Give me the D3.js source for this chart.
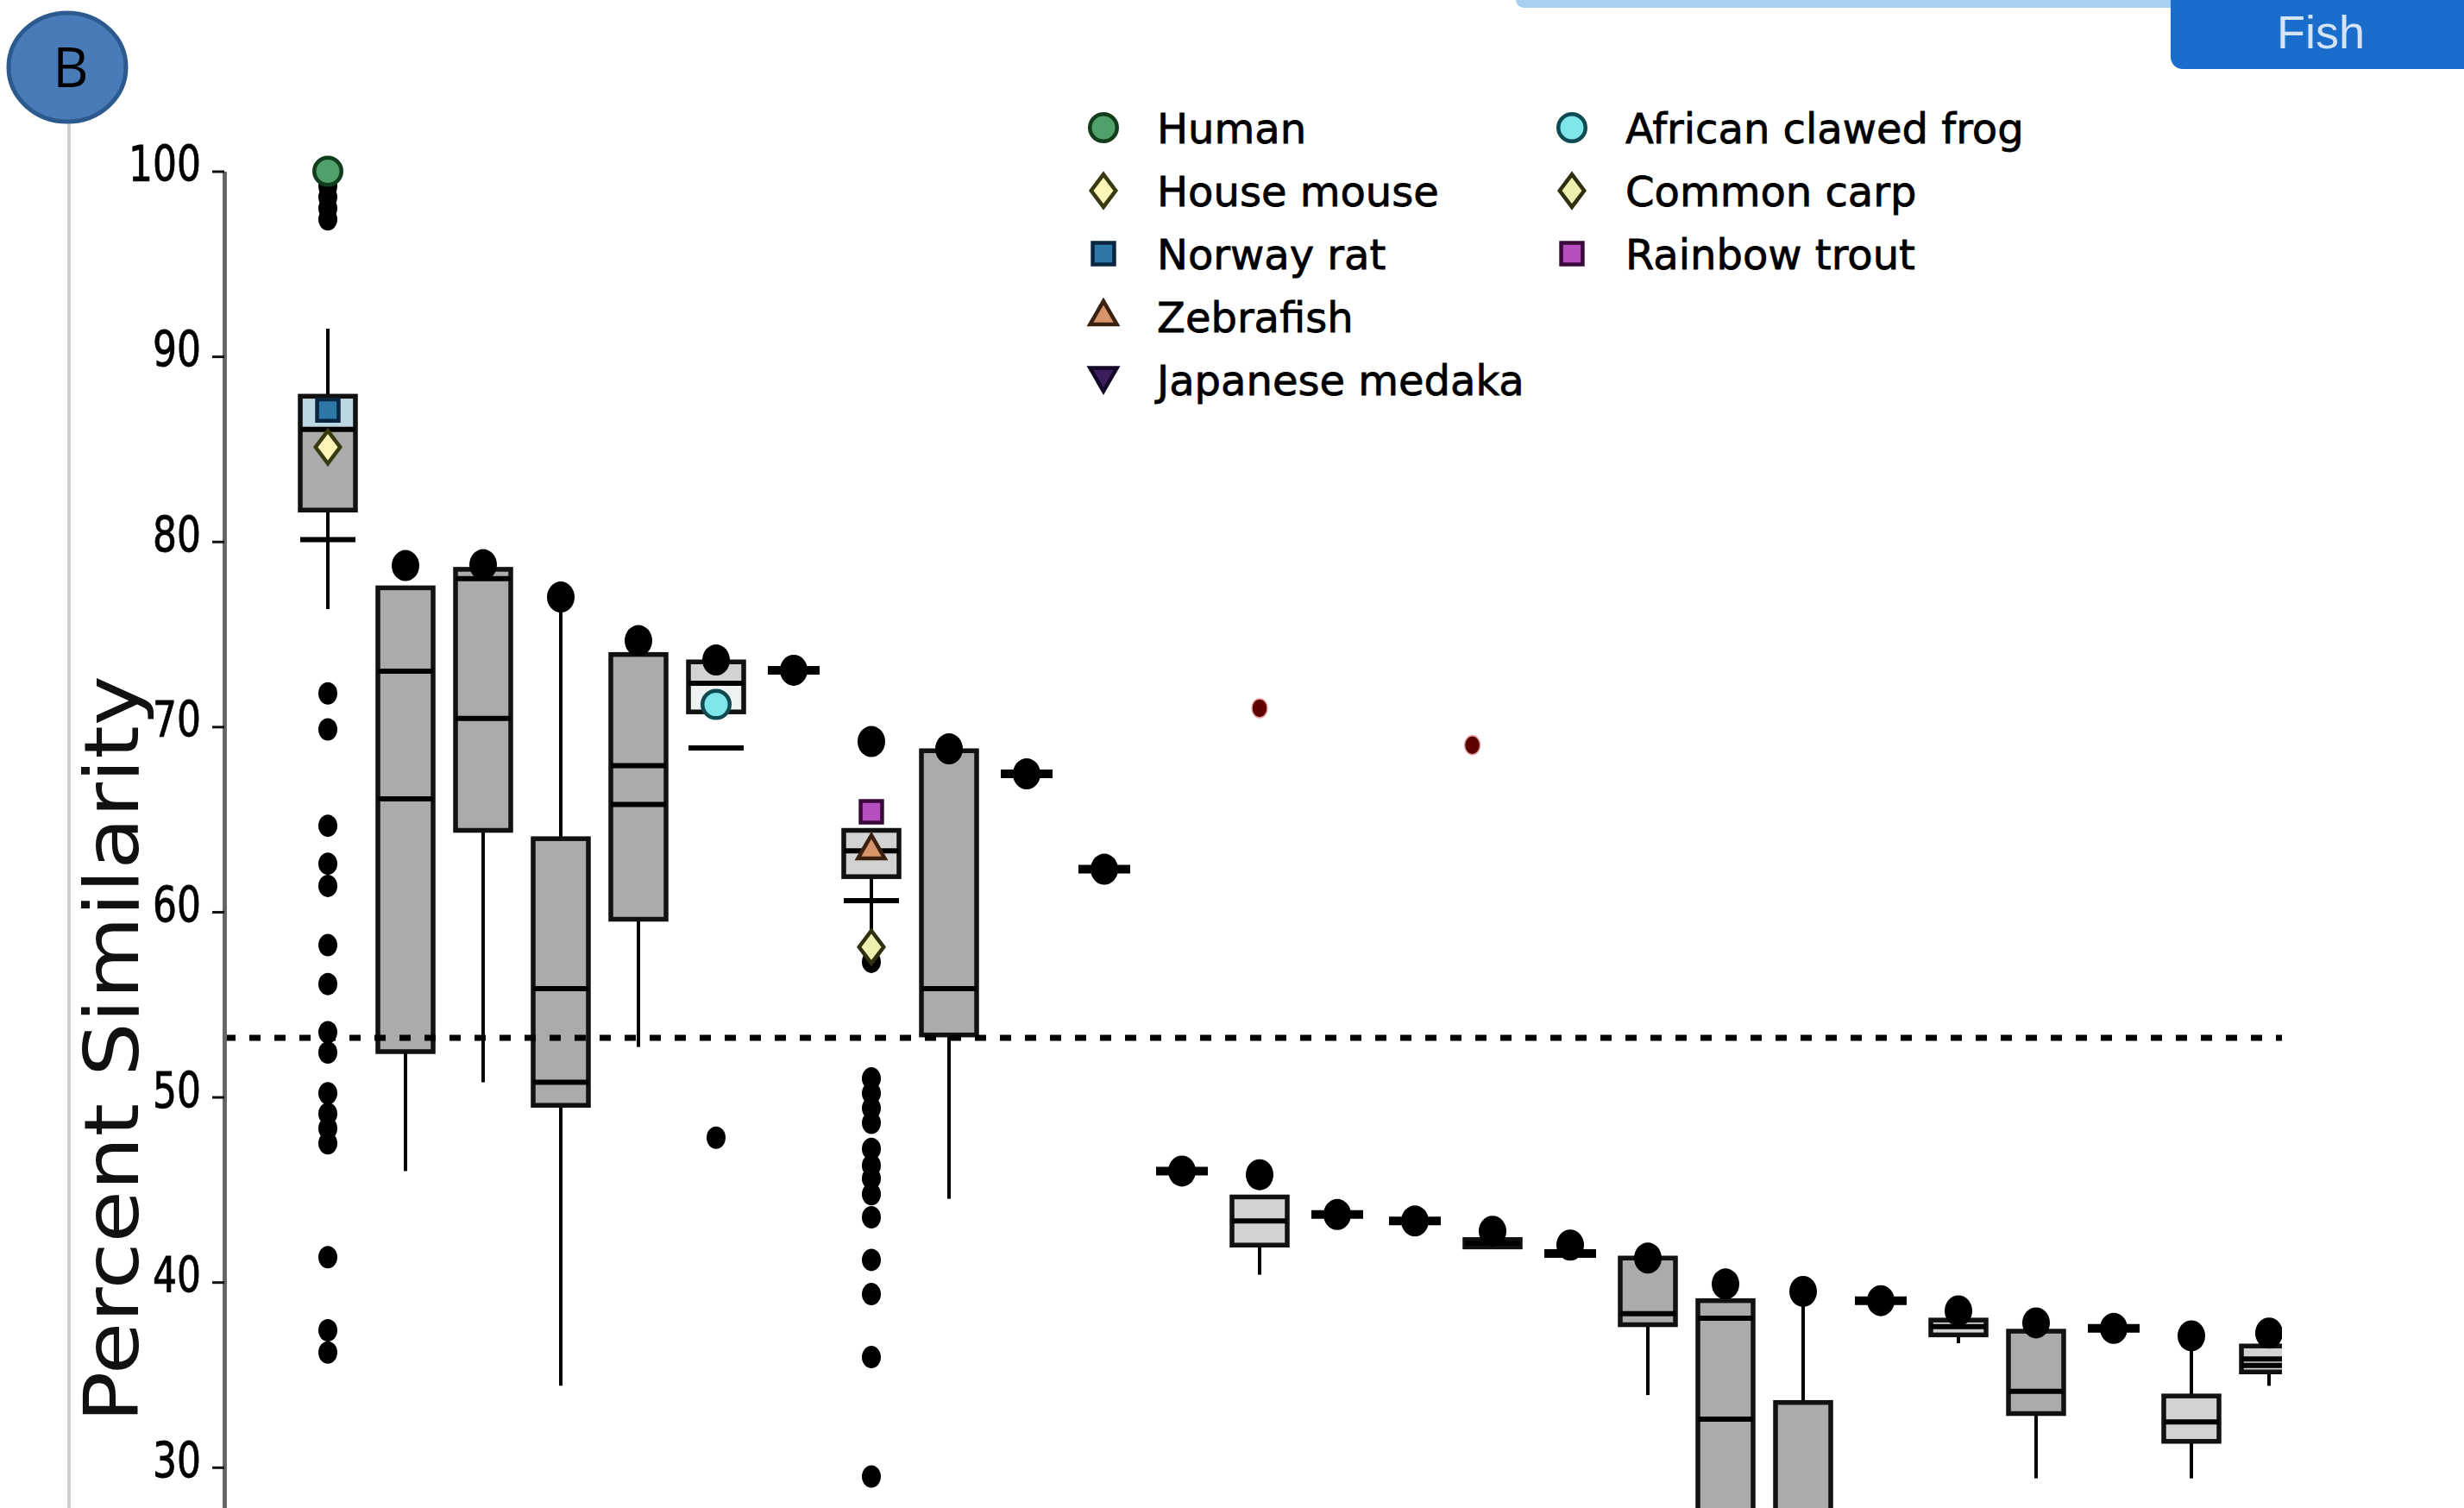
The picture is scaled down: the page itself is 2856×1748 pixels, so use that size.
<!DOCTYPE html>
<html>
<head>
<meta charset="utf-8">
<script src="https://cdn.jsdelivr.net/npm/d3@7/dist/d3.min.js"></script>
<style>
  html, body { margin: 0; padding: 0; background: #fff; }
  svg { display: block; }
</style>
</head>
<body>
<svg id="chart" width="2856" height="1748"></svg>
<script>
// ---- data ----
// 26 comparison groups; their x labels are cut off in the source panel
const categories = d3.range(1, 27);
const yTicks = [30, 40, 50, 60, 70, 80, 90, 100];
const threshold = 53.2;

// box statistics per group (null where no box part is drawn)
const boxQ1     = [81.7, 52.45, 64.4, 49.55, 59.6, 70.8, 73.05, 61.9, 53.35, 67.45, 62.3, 46.0, 42.0, 43.65, 43.3, 41.9, 41.55, 37.7, 24.0, 24.0, 39.0, 37.15, 32.9, 37.5, 31.4, 35.15];
const boxQ3     = [87.85, 77.5, 78.5, 63.95, 73.9, 73.5, 73.05, 64.4, 68.7, 67.45, 62.3, 46.0, 44.6, 43.65, 43.3, 42.3, 41.55, 41.3, 39.0, 33.5, 39.0, 37.95, 37.35, 37.5, 33.85, 36.55];
const boxMedian = [86.06, 66.1, 70.45, 55.85, 65.8, 72.35, 73.05, 63.3, 55.85, 67.45, 62.3, 46.0, 43.3, 43.65, 43.3, 42.1, 41.55, 38.3, 32.6, null, 39.0, 37.6, 34.1, 37.5, 32.45, 35.85];
const boxMean   = [null, 73.0, 78.0, 50.8, 67.9, null, null, null, null, null, null, null, null, null, null, null, null, null, 38.05, null, null, null, null, null, null, 35.5];
const whiskerLow  = [76.35, 46.0, 50.8, 34.4, 52.7, 70.8, 73.05, 58.0, 44.5, 67.45, 62.3, 46.0, 40.4, 43.65, 43.3, 41.9, 41.55, 33.9, 24.0, 24.0, 39.0, 36.7, 29.4, 37.5, 29.4, 34.4];
const whiskerHigh = [91.5, 77.5, 78.5, 77.0, 73.9, 73.5, 73.05, 64.4, 68.7, 67.45, 62.3, 46.0, 44.6, 43.65, 43.3, 42.3, 41.55, 41.3, 39.0, 39.5, 39.0, 37.95, 37.35, 37.5, 37.1, 36.55];

// maximum value of each group (large black dot)
const maxPoints = [null, 78.7, 78.75, 77.0, 74.65, 73.6, 73.05, 69.2, 68.8, 67.45, 62.3, 46.0, 45.8, 43.65, 43.3, 42.75, 42.0, 41.3, 39.9, 39.5, 39.0, 38.45, 37.8, 37.5, 37.1, 37.25];

// outliers (small black dots) by group
const outliers1 = [99.2, 98.6, 98.0, 97.4, 71.8, 69.85, 64.65, 62.6, 61.4, 58.2, 56.1, 53.5, 52.4, 50.2, 49.1, 48.3, 47.5, 41.35, 37.4, 36.2];
const outliers6 = [47.8];
const outliers8 = [57.3, 51.0, 50.2, 49.4, 48.6, 47.2, 46.3, 45.6, 44.75, 43.5, 41.2, 39.35, 35.95, 29.5];

// short horizontal reference marks under some boxes
const capGroups = [1, 6, 8];
const capValues = [80.1, 68.85, 60.6];

// stray dark red points
const redX = [13, 15.74];
const redY = [71.0, 69.0];

// species markers
const speciesNames  = ['Human', 'House mouse', 'Norway rat', 'Zebrafish', 'Japanese medaka', 'African clawed frog', 'Common carp', 'Rainbow trout'];
const speciesShapes = ['circle', 'diamond', 'square', 'triangle', 'triangleDown', 'circle', 'diamond', 'square'];
const speciesFill   = ['#4fa06a', '#fbf5b8', '#2e78a8', '#d9956a', '#3b1f5c', '#7ee6ea', '#eef0b0', '#b64fbf'];
const speciesStroke = ['#123d1c', '#3a3a10', '#0a2540', '#3a2010', '#140828', '#0e4a50', '#303010', '#3a0a3a'];
const speciesPoints = [
  { species: 'Human', group: 1, value: 100.0 },
  { species: 'Norway rat', group: 1, value: 87.1 },
  { species: 'House mouse', group: 1, value: 85.1 },
  { species: 'African clawed frog', group: 6, value: 71.2 },
  { species: 'Rainbow trout', group: 8, value: 65.4 },
  { species: 'Zebrafish', group: 8, value: 63.3 },
  { species: 'Common carp', group: 8, value: 58.1 }
];
// tinted band inside group 1 box (upper quartile section)
const tintGroups = [1, 6];
const tintLow  = [86.06, 70.8];
const tintHigh = [87.85, 72.35];

// ---- layout ----
const W = 2856, H = 1748;
const plotLeft = 260, plotRight = 2645;
const boxHalf = 32;

const svg = d3.select('#chart');
svg.append('rect').attr('width', W).attr('height', H).attr('fill', '#fff');

const x = d3.scaleLinear().domain([1, 26]).range([380, 2630]);
const y = d3.scaleLinear().domain([27.8, 100]).range([H, 198.5]);

// custom marker shapes
const tallDiamond = {
  draw(ctx, size) {
    const h = Math.sqrt(size / 1.5), w = h * 0.75;
    ctx.moveTo(0, -h); ctx.lineTo(w, 0); ctx.lineTo(0, h); ctx.lineTo(-w, 0); ctx.closePath();
  }
};
const triangleDown = {
  draw(ctx, size) {
    const s = Math.sqrt(size * 4 / Math.sqrt(3)), h = s * Math.sqrt(3) / 2;
    ctx.moveTo(-s / 2, -h / 2); ctx.lineTo(s / 2, -h / 2); ctx.lineTo(0, h / 2); ctx.closePath();
  }
};
const shapeTypes = {
  circle: [d3.symbolCircle, 780],
  diamond: [tallDiamond, 540],
  square: [d3.symbolSquare, 620],
  triangle: [d3.symbolTriangle, 420],
  triangleDown: [triangleDown, 420]
};
function markerPath(species) {
  const i = speciesNames.indexOf(species);
  const [type, size] = shapeTypes[speciesShapes[i]];
  return d3.symbol().type(type).size(size)();
}
function styleMarker(sel, species) {
  const i = speciesNames.indexOf(species);
  sel.attr('d', markerPath(species))
    .attr('fill', speciesFill[i])
    .attr('stroke', speciesStroke[i])
    .attr('stroke-width', 4.5);
}

// ---- header decorations: panel badge and tab ----
svg.append('line')
  .attr('x1', 80).attr('x2', 80).attr('y1', 140).attr('y2', H)
  .attr('stroke', '#cfcfcf').attr('stroke-width', 4);
svg.append('ellipse')
  .attr('cx', 78).attr('cy', 78).attr('rx', 68).attr('ry', 63)
  .attr('fill', '#4a7bb9').attr('stroke', '#2d5a8e').attr('stroke-width', 5);
svg.append('text')
  .attr('x', 82).attr('y', 101).attr('text-anchor', 'middle')
  .attr('font-family', 'Open Sans, Liberation Sans, sans-serif').attr('font-size', 64)
  .attr('fill', '#000').text('B');

svg.append('rect')
  .attr('x', 1757).attr('y', -12).attr('width', 790).attr('height', 21).attr('rx', 9)
  .attr('fill', '#a7cff2');
svg.append('rect')
  .attr('x', 2516).attr('y', -20).attr('width', 360).attr('height', 100).attr('rx', 14)
  .attr('fill', '#1b6dcc');
svg.append('text')
  .attr('x', 2690).attr('y', 56).attr('text-anchor', 'middle')
  .attr('font-family', 'Liberation Sans, Arial, sans-serif').attr('font-size', 54)
  .attr('fill', '#d4e3f5').text('Fish');

// ---- axis ----
const yAxis = svg.append('g')
  .attr('transform', `translate(${plotLeft},0)`)
  .call(d3.axisLeft(y).tickValues(yTicks).tickSize(14).tickSizeOuter(0).tickPadding(13));
yAxis.select('.domain').attr('stroke', '#666').attr('stroke-width', 5);
yAxis.selectAll('.tick line').attr('stroke', '#111').attr('stroke-width', 3);
yAxis.selectAll('.tick text')
  .attr('font-family', 'DejaVu Sans, sans-serif').attr('font-size', 44)
  .attr('fill', '#000').attr('stroke', '#000').attr('stroke-width', 0.7)
  .attr('dy', '0.2em')
  .attr('transform', 'scale(1,1.3)');

svg.append('text')
  .attr('transform', 'translate(160,1216) rotate(-90)')
  .attr('text-anchor', 'middle')
  .attr('font-family', 'DejaVu Sans, sans-serif').attr('font-size', 88)
  .attr('textLength', 866).attr('lengthAdjust', 'spacingAndGlyphs')
  .attr('fill', '#111').text('Percent Similarity');

// ---- plot area ----
svg.append('clipPath').attr('id', 'plotClip')
  .append('rect').attr('x', plotLeft + 3).attr('y', 0).attr('width', plotRight - plotLeft - 3).attr('height', H);
const plot = svg.append('g').attr('clip-path', 'url(#plotClip)');

categories.forEach((c, i) => {
  const g = plot.append('g');
  const cx = x(c);
  // whiskers
  if (whiskerHigh[i] > boxQ3[i]) {
    g.append('line').attr('x1', cx).attr('x2', cx)
      .attr('y1', y(boxQ3[i])).attr('y2', y(whiskerHigh[i]))
      .attr('stroke', '#000').attr('stroke-width', 4);
  }
  if (whiskerLow[i] < boxQ1[i]) {
    g.append('line').attr('x1', cx).attr('x2', cx)
      .attr('y1', y(boxQ1[i])).attr('y2', y(whiskerLow[i]))
      .attr('stroke', '#000').attr('stroke-width', 4);
  }
  const top = y(boxQ3[i]), bottom = y(boxQ1[i]);
  if (bottom - top < 2) {
    // collapsed box: a thick bar
    g.append('line').attr('x1', cx - boxHalf + 2).attr('x2', cx + boxHalf - 2)
      .attr('y1', top).attr('y2', top)
      .attr('stroke', '#000').attr('stroke-width', 10);
    return;
  }
  g.append('rect')
    .attr('x', cx - boxHalf).attr('y', top)
    .attr('width', boxHalf * 2).attr('height', bottom - top)
    .attr('fill', bottom - top < 70 ? '#d2d2d2' : '#ababab')
    .attr('stroke', '#111').attr('stroke-width', 5.5);
  const t = tintGroups.indexOf(c);
  if (t >= 0) {
    g.append('rect')
      .attr('x', cx - boxHalf + 3).attr('y', y(tintHigh[t]) + 3)
      .attr('width', boxHalf * 2 - 6).attr('height', y(tintLow[t]) - y(tintHigh[t]) - 6)
      .attr('fill', c === 1 ? '#bcd6e2' : '#eef2f2');
  }
  [boxMedian[i], boxMean[i]].forEach(v => {
    if (v == null) return;
    g.append('line').attr('x1', cx - boxHalf).attr('x2', cx + boxHalf)
      .attr('y1', y(v)).attr('y2', y(v))
      .attr('stroke', '#000').attr('stroke-width', 6);
  });
});

// reference marks
capGroups.forEach((c, i) => {
  plot.append('line')
    .attr('x1', x(c) - boxHalf).attr('x2', x(c) + boxHalf)
    .attr('y1', y(capValues[i])).attr('y2', y(capValues[i]))
    .attr('stroke', '#000').attr('stroke-width', 6);
});

// threshold
plot.append('line')
  .attr('x1', plotLeft).attr('x2', plotRight)
  .attr('y1', y(threshold)).attr('y2', y(threshold))
  .attr('stroke', '#000').attr('stroke-width', 7)
  .attr('stroke-dasharray', '13,16');

// outliers
[[1, outliers1], [6, outliers6], [8, outliers8]].forEach(([c, vals]) => {
  plot.selectAll(null).data(vals).enter().append('ellipse')
    .attr('cx', x(c)).attr('cy', d => y(d))
    .attr('rx', 11).attr('ry', 13).attr('fill', '#000');
});

// group maxima
plot.selectAll('.max').data(categories.filter((c, i) => maxPoints[i] != null)).enter()
  .append('ellipse').attr('class', 'max')
  .attr('cx', c => x(c)).attr('cy', c => y(maxPoints[c - 1]))
  .attr('rx', 16).attr('ry', 18).attr('fill', '#000');

// red points
plot.selectAll('.red').data(redX).enter().append('ellipse').attr('class', 'red')
  .attr('cx', d => x(d)).attr('cy', (d, i) => y(redY[i]))
  .attr('rx', 9).attr('ry', 11)
  .attr('fill', '#5c0000').attr('stroke', '#e8a0a0').attr('stroke-width', 1.5);

// species markers
speciesPoints.forEach(p => {
  plot.append('path')
    .attr('transform', `translate(${x(p.group)},${y(p.value)})`)
    .call(styleMarker, p.species);
});

// ---- legend ----
const legendCols = [[1279, 1341], [1822, 1884]];
const legendTop = 148, legendStep = 73;
speciesNames.forEach((name, i) => {
  const col = i < 5 ? 0 : 1;
  const row = i < 5 ? i : i - 5;
  const ly = legendTop + row * legendStep;
  const g = svg.append('g');
  g.append('path')
    .attr('transform', `translate(${legendCols[col][0]},${ly})`)
    .call(styleMarker, name);
  g.append('text')
    .attr('x', legendCols[col][1]).attr('y', ly).attr('dy', '0.38em')
    .attr('font-family', 'DejaVu Sans, sans-serif').attr('font-size', 48)
    .attr('fill', '#000').attr('stroke', '#000').attr('stroke-width', 0.8)
    .text(name);
});
</script>
</body>
</html>
